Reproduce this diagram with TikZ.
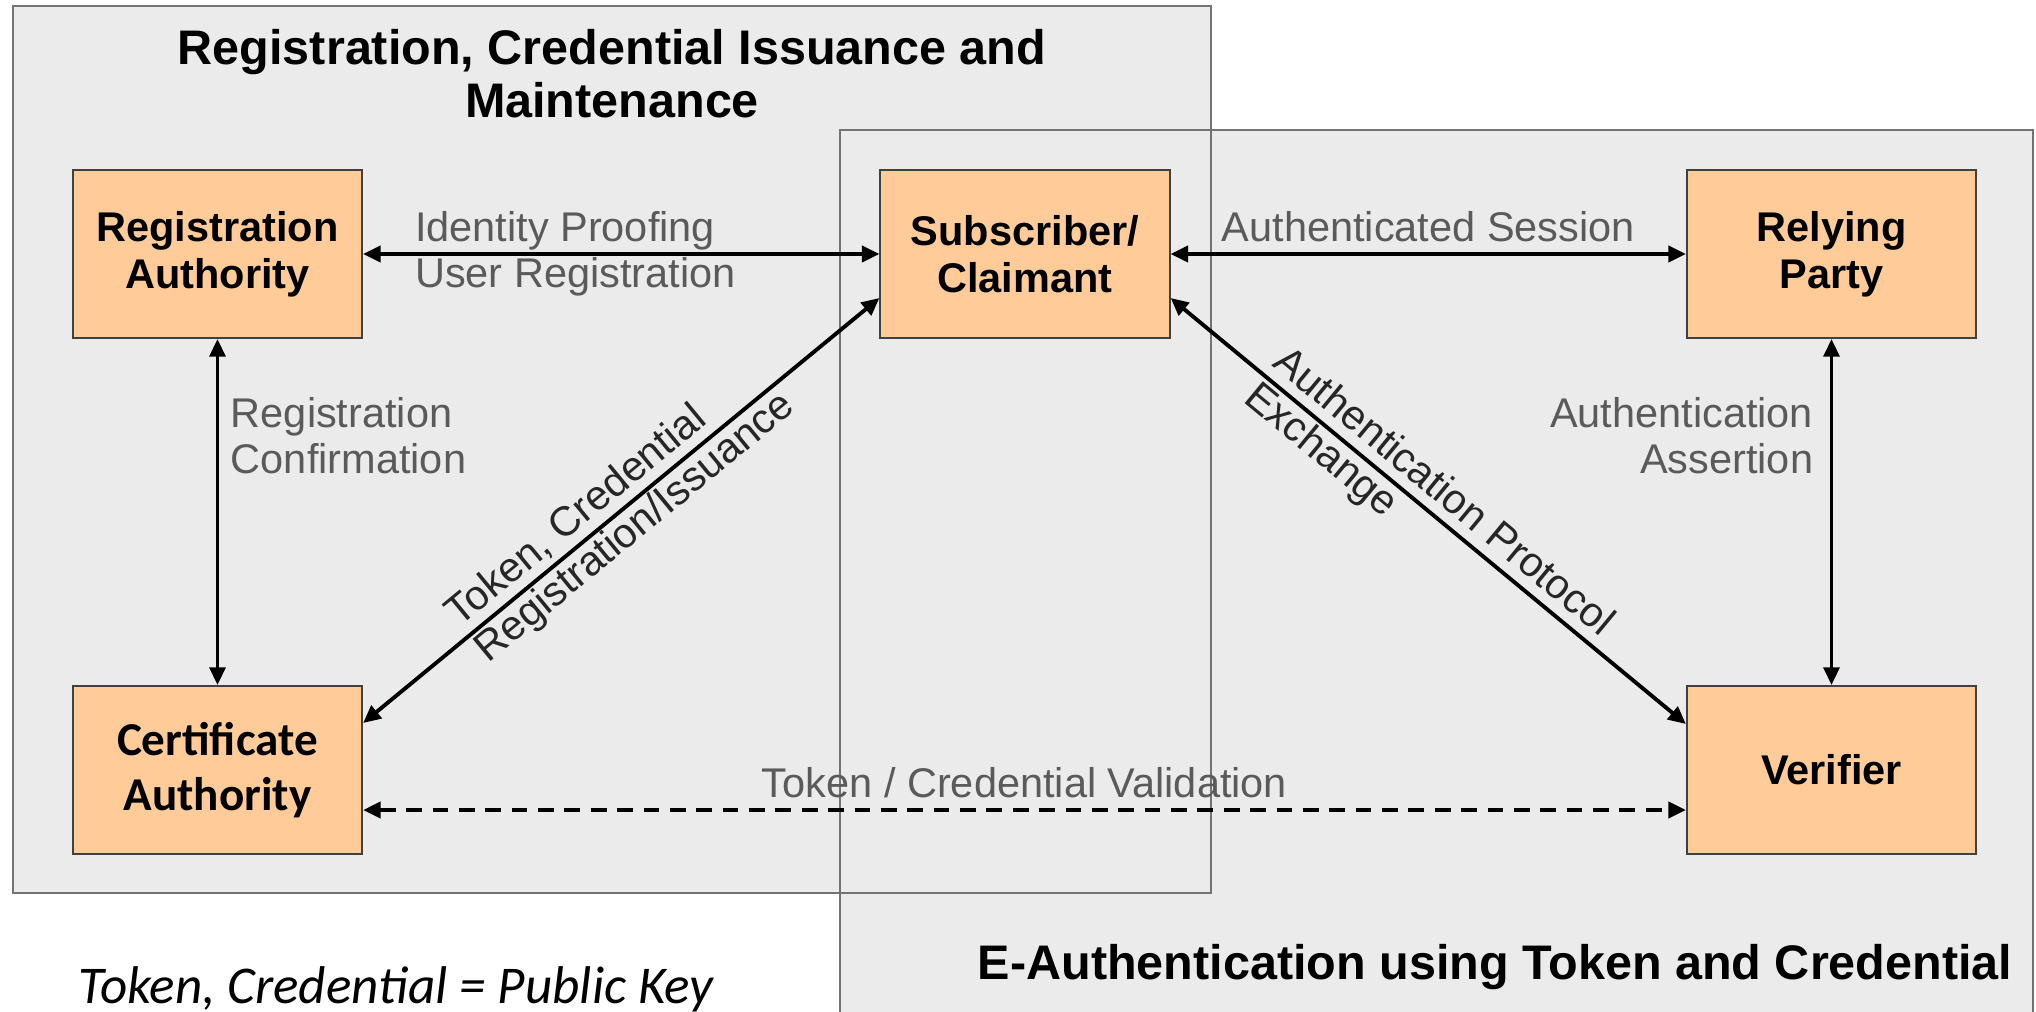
\documentclass[tikz,border=0pt]{standalone}
\usepackage{fontspec}
\setmainfont{Liberation Sans}
\newfontfamily\calibri{Carlito}
\usetikzlibrary{arrows.meta}
\definecolor{zonegray}{HTML}{EBEBEB}
\definecolor{peach}{HTML}{FFCC99}
\definecolor{labelgray}{HTML}{5A5A5A}

\begin{document}
\begin{tikzpicture}[x=0.01cm, y=-0.01cm,
		zone/.style={fill=zonegray},
		zoneline/.style={draw=black!55, line width=0.8pt},
		title/.style={font=\fontsize{13.8}{15}\selectfont\bfseries, align=center},
		actor/.style={draw=black!75, fill=peach, line width=0.6pt, minimum width=2.89cm, minimum height=1.68cm, align=center, font=\fontsize{11.8}{13.4}\selectfont\bfseries},
		link/.style={{Triangle[length=5pt,width=4.6pt]}-{Triangle[length=5pt,width=4.6pt]}, line width=1.1pt},
		msg/.style={text=labelgray, font=\fontsize{11.8}{13.1}\selectfont, inner sep=0pt},
		diag/.style={msg, text=black!85, align=left, sloped}]
		\useasboundingbox (0,0) rectangle (2036,1012);
		% zones
		\fill[zone] (13,6) rectangle (1211,893);
		\fill[zone] (840,130) rectangle (2033,1012);
		\draw[zoneline] (13,6) rectangle (1211,893);
		\draw[zoneline] (840,1012) -- (840,130) -- (2033,130) -- (2033,1012);
		% titles
		\node[title] (regtitle) at (612,74) {Registration, Credential Issuance and\\Maintenance};
		\node[title] (authtitle) at (1495,967) {E-Authentication using Token and Credential};
		\node[font=\fontsize{15.1}{16}\selectfont\calibri\itshape, anchor=west, inner sep=0pt] (keynote) at (78,989) {Token, Credential = Public Key};
		% parties
		\node[actor] (ra)  at (217.5,254)  {Registration\\Authority};
		\node[actor] (sc)  at (1025,254)   {Subscriber/\\Claimant};
		\node[actor] (rp)  at (1831.5,254) {Relying\\Party};
		\node[actor, font=\fontsize{13.4}{15.6}\selectfont\calibri\bfseries] (ca) at (217.5,770) {Certificate\\Authority};
		\node[actor] (ver) at (1831.5,770) {Verifier};
		% arrows
		\draw[link] (ra) -- node[msg, pos=0.097, anchor=west, align=left] {Identity Proofing\\User Registration} (sc);
		\draw[link] (sc) -- node[msg, above=3pt] {Authenticated Session} (rp);
		\draw[link, line width=0.8pt] (ra) -- node[msg, pos=0.28, anchor=west, xshift=0.12cm, align=left] {Registration\\Confirmation} (ca);
		\draw[link, line width=0.8pt] (rp) -- node[msg, pos=0.28, anchor=east, xshift=-0.17cm, align=right] {Authentication\\Assertion} (ver);
		\draw[link] ([yshift=-0.44cm]sc.west) -- node[diag] {Token, Credential\\Registration/Issuance} ([yshift=0.47cm]ca.east);
		\draw[link] ([yshift=-0.44cm]sc.east) -- node[diag] {Authentication Protocol\\Exchange} ([yshift=0.46cm]ver.west);
		% validation
		\draw[link, dash pattern=on 4.5pt off 3pt] ([yshift=-0.4cm]ca.east) -- node[msg, above=3pt] {Token / Credential Validation} ([yshift=-0.4cm]ver.west);
	\end{tikzpicture}
\end{document}
